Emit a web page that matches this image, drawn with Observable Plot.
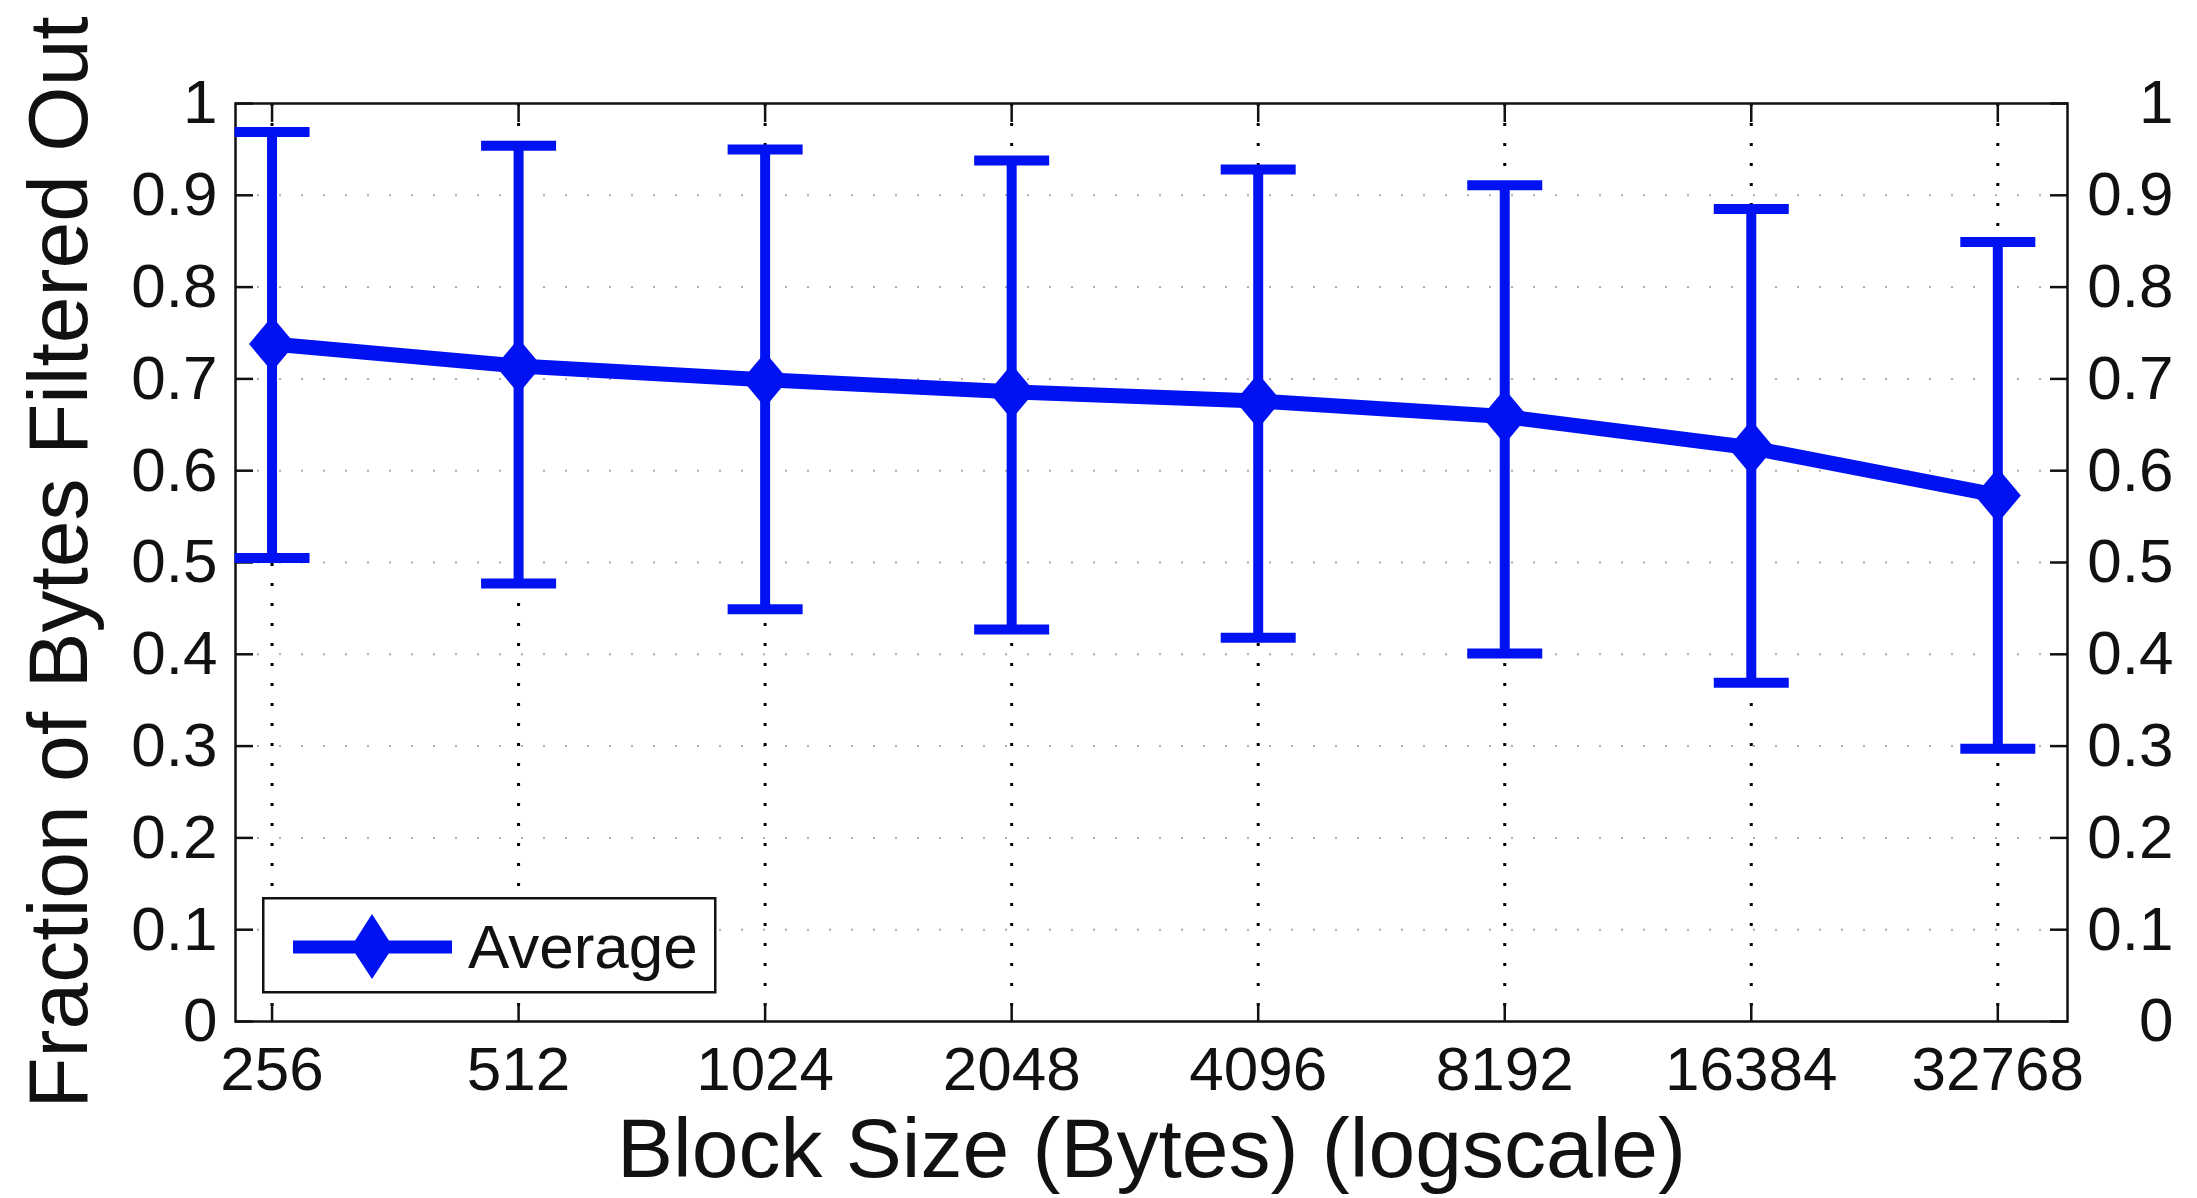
<!DOCTYPE html>
<html>
<head>
<meta charset="utf-8">
<script src="https://cdn.jsdelivr.net/npm/d3@7"></script>
<script src="https://cdn.jsdelivr.net/npm/@observablehq/plot@0.6"></script>
<style>
  html, body { margin: 0; padding: 0; background: #fff; }
  #chart { position: relative; width: 2197px; height: 1198px; overflow: hidden; }
  #legend { position: absolute; left: 262px; top: 897px; }
</style>
</head>
<body>
<div id="chart"></div>
<script>
// ---- data ----
const blockSizes   = [256, 512, 1024, 2048, 4096, 8192, 16384, 32768];
const xTickLabels  = ["256", "512", "1024", "2048", "4096", "8192", "16384", "32768"];
const avgFiltered  = [0.738, 0.714, 0.699, 0.686, 0.676, 0.659, 0.625, 0.573];
const upperBound   = [0.969, 0.954, 0.950, 0.938, 0.928, 0.911, 0.885, 0.849];
const lowerBound   = [0.505, 0.477, 0.449, 0.427, 0.418, 0.401, 0.369, 0.297];
const yTicks       = [0, 0.1, 0.2, 0.3, 0.4, 0.5, 0.6, 0.7, 0.8, 0.9, 1];
const yTickLabels  = ["0", "0.1", "0.2", "0.3", "0.4", "0.5", "0.6", "0.7", "0.8", "0.9", "1"];
const yGridValues  = [0.1, 0.2, 0.3, 0.4, 0.5, 0.6, 0.7, 0.8, 0.9];
const xDomain      = [231, 39860];
const yDomain      = [0, 1];
const seriesName   = "Average";
const xTitle       = "Block Size (Bytes) (logscale)";
const yTitle       = "Fraction of Bytes Filtered Out";

const rows = blockSizes.map((s, i) => ({size: s, avg: avgFiltered[i], low: lowerBound[i], high: upperBound[i]}));

const BLUE = "#0012f2";
const INK = "#111";

const diamondSymbol = {
  draw(ctx) { const w = 23, h = 27.5; ctx.moveTo(0, -h); ctx.lineTo(w, 0); ctx.lineTo(0, h); ctx.lineTo(-w, 0); ctx.closePath(); }
};
const capSymbol = {
  draw(ctx) { ctx.rect(-37.5, -5, 75, 10); }
};

const fmtX = d => xTickLabels[blockSizes.indexOf(d)];
const fmtY = d => yTickLabels[yTicks.indexOf(d)];

const plot = Plot.plot({
  width: 2197,
  height: 1198,
  marginLeft: 235,
  marginRight: 130,
  marginTop: 103,
  marginBottom: 177,
  style: {fontFamily: "'Liberation Sans', Arial, Helvetica, sans-serif", fontSize: "62px", background: "#fff", color: INK, overflow: "visible"},
  x: {type: "log", domain: xDomain},
  y: {domain: yDomain},
  marks: [
    Plot.gridY(yGridValues, {stroke: "#9a9a9a", strokeOpacity: 0.8, strokeWidth: 2, strokeDasharray: "2,20"}),
    Plot.gridX(blockSizes, {stroke: "#000", strokeOpacity: 1, strokeWidth: 3, strokeDasharray: "3,17"}),
    Plot.frame({stroke: INK, strokeWidth: 2.5}),
    Plot.axisX(blockSizes, {anchor: "bottom", tickSize: -18, tickPadding: 42, strokeWidth: 2.5, tickFormat: fmtX, label: null}),
    Plot.axisX(blockSizes, {anchor: "top", tickSize: -18, strokeWidth: 2.5, fill: "none", label: null}),
    Plot.axisY(yTicks, {anchor: "left", tickSize: -18, tickPadding: 36, strokeWidth: 2.5, tickFormat: fmtY, label: null}),
    Plot.axisY(yTicks, {anchor: "right", tickSize: -18, tickPadding: 124, textAnchor: "end", strokeWidth: 2.5, tickFormat: fmtY, label: null}),
    Plot.ruleX(rows, {x: "size", y1: "low", y2: "high", stroke: BLUE, strokeWidth: 10}),
    Plot.dot(rows, {x: "size", y: "high", symbol: capSymbol, fill: BLUE, stroke: "none", r: 5}),
    Plot.dot(rows, {x: "size", y: "low", symbol: capSymbol, fill: BLUE, stroke: "none", r: 5}),
    Plot.line(rows, {x: "size", y: "avg", stroke: BLUE, strokeWidth: 15, strokeLinejoin: "round"}),
    Plot.dot(rows, {x: "size", y: "avg", symbol: diamondSymbol, fill: BLUE, stroke: "none", r: 5}),
    Plot.text([yTitle], {text: d => d, frameAnchor: "left", rotate: -90, dx: -175, fontSize: 84, textAnchor: "middle", lineAnchor: "middle", fill: INK}),
    Plot.text([xTitle], {text: d => d, frameAnchor: "bottom", dy: 129, fontSize: 84, textAnchor: "middle", lineAnchor: "middle", fill: INK})
  ]
});

const chart = document.getElementById("chart");
chart.appendChild(plot);

// legend box (inside the plot area, lower left)
const ns = "http://www.w3.org/2000/svg";
const leg = document.createElementNS(ns, "svg");
leg.setAttribute("id", "legend");
leg.setAttribute("width", "456");
leg.setAttribute("height", "98");
leg.innerHTML =
  `<rect x="1.25" y="1.25" width="452" height="94" fill="#fff" stroke="${INK}" stroke-width="2.5"/>` +
  `<line x1="31" y1="50" x2="190" y2="50" stroke="${BLUE}" stroke-width="13"/>` +
  `<polygon points="110,17 131,50 110,82 89,50" fill="${BLUE}"/>` +
  `<text x="206" y="71" font-family="'Liberation Sans', Arial, Helvetica, sans-serif" font-size="62" fill="${INK}">${seriesName}</text>`;
chart.appendChild(leg);
</script>
</body>
</html>
